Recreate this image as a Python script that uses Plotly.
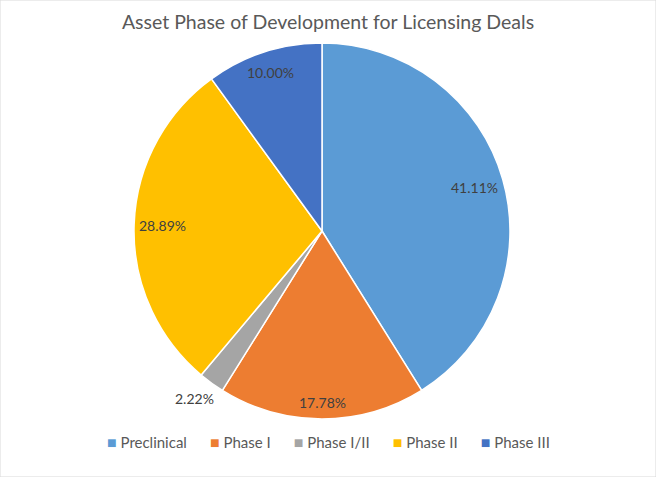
import math
import plotly.graph_objects as go

# deal counts per phase (shares: n / 90)
phases = ["Preclinical", "Phase I", "Phase I/II", "Phase II", "Phase III"]
deals = [37, 16, 2, 26, 9]
colors = ["#5B9BD5", "#ED7D31", "#A5A5A5", "#FFC000", "#4472C4"]
label_outside = [False, False, True, False, False]

W, H = 656, 477
cx, cy, r = 322, 231, 188
FONT = "Lato"

fig = go.Figure(go.Pie(
    labels=phases,
    values=deals,
    sort=False,
    direction="clockwise",
    rotation=0,
    marker=dict(colors=colors, line=dict(color="white", width=1.5)),
    textinfo="none",
    hoverinfo="label+value+percent",
    showlegend=False,
    domain=dict(x=[(cx - r) / W, (cx + r) / W], y=[(H - cy - r) / H, (H - cy + r) / H]),
))

# data labels placed Excel "best fit" style: inside near the rim, tiny slice outside
annotations = []
total = sum(deals)
start = 0.0
for v, outside in zip(deals, label_outside):
    share = v / total
    mid = (start + share / 2) * 2 * math.pi
    start += share
    txt = f"{share * 100:.2f}%"
    ux, uy = math.sin(mid), -math.cos(mid)
    hw, hh = len(txt) * 3.4, 7
    b = abs(ux) * hw + abs(uy) * hh
    if outside:
        target = r + 4
        d = b + math.sqrt(b * b - (hw * hw + hh * hh - target * target))
    else:
        target = r - 8
        d = -b + math.sqrt(b * b - (hw * hw + hh * hh - target * target))
    px_, py_ = cx + d * ux, cy + d * uy
    if outside:
        px_ -= 6  # excel nudges the outside label away from the neighbouring slice
    annotations.append(dict(
        text=txt, x=px_ / W, y=1 - py_ / H, xref="paper", yref="paper",
        xanchor="center", yanchor="middle", showarrow=False,
        font=dict(family=FONT, size=14, color="#404040"),
    ))

# legend row drawn as text so the square/label spacing matches the original
gap = "&nbsp;" * 6
legend_text = gap.join(
    f"<span style='color:{c};font-size:16px'>■</span> {p}" for p, c in zip(phases, colors)
)
annotations.append(dict(
    text=legend_text, x=0.5 + 1 / W, y=1 - 441 / H, xref="paper", yref="paper",
    xanchor="center", yanchor="middle", showarrow=False,
    font=dict(family=FONT, size=15, color="#595959"),
))

fig.update_layout(
    width=W,
    height=H,
    margin=dict(l=0, r=0, t=0, b=0),
    paper_bgcolor="white",
    title=dict(
        text="Asset Phase of Development for Licensing Deals",
        x=0.5, xanchor="center", y=1 - 22 / H, yanchor="middle",
        font=dict(family=FONT, size=19.5, color="#595959"),
    ),
    annotations=annotations,
    shapes=[dict(type="rect", xref="paper", yref="paper", x0=0, y0=0, x1=1, y1=1,
                 line=dict(color="#D9D9D9", width=1))],
)

# drop the default page margin so the chart sits at the window's top-left
fig.write_html("out.html", config={"displayModeBar": False},
               post_script="document.body.style.margin='0';")
